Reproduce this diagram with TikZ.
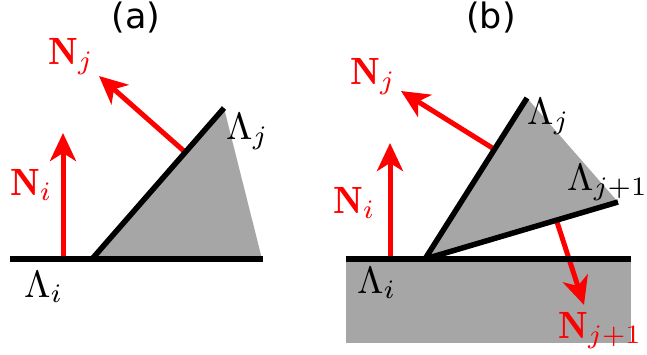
\documentclass[tikz,border=0pt]{standalone}
\usepackage{graphicx}
\usepackage{fontspec}
\newfontfamily\titlefont{DejaVu Sans}
\usetikzlibrary{arrows.meta}
\newcommand\lbltxt[1]{\scalebox{3.8}{$#1$}}
\begin{document}
\begin{tikzpicture}[x=1pt,y=-1pt,
  edge/.style={line width=5.5pt,black},
  normal/.style={line width=5pt,red,-{Stealth[length=28pt,width=26pt,inset=8pt]}},
  lbl/.style={inner sep=0pt,anchor=base west},
  nlbl/.style={lbl,text=red},
  ttl/.style={inner sep=0pt,font=\titlefont\fontsize{35}{40}\selectfont}]
\useasboundingbox (0,0) rectangle (647,354);
% ---------- panel (a)
\node[ttl] (ta) at (136,18) {(a)};
\coordinate (a0) at (10,259);
\coordinate (a1) at (92,259);
\coordinate (a2) at (224,108);
\coordinate (a3) at (263,259);
\fill[black!35] (a1) -- (a2) -- (262,259) -- cycle;
\coordinate (aNi0) at (63,259);
\coordinate (aNi1) at (63,133);
\coordinate (aNj0) at (185,152);
\coordinate (aNj1) at (99,76);
\draw[normal] (aNi0) -- (aNi1);
\draw[normal] (aNj0) -- (aNj1);
\draw[edge] (a0) -- (a3);
\draw[edge] (a1) -- (a2);
\node[nlbl] (aNj) at (48,64) {\lbltxt{\mathbf{N}_j}};
\node[nlbl] (aNi) at (10,195) {\lbltxt{\mathbf{N}_i}};
\node[lbl] (aLi) at (24,297) {\lbltxt{\Lambda_i}};
\node[lbl] (aLj) at (226,139) {\lbltxt{\Lambda_j}};
% ---------- panel (b)
\node[ttl] (tb) at (491,18) {(b)};
\coordinate (b0) at (346,259);
\coordinate (b1) at (425,259);
\coordinate (b2) at (527,98);
\coordinate (b3) at (618,202);
\coordinate (b4) at (631,259);
\fill[black!35] (346,259) rectangle (631,343);
\fill[black!35] (b1) -- (b2) -- (b3) -- cycle;
\coordinate (bNi0) at (390,259);
\coordinate (bNi1) at (390,143);
\coordinate (bNj0) at (494,149);
\coordinate (bNj1) at (401,91);
\coordinate (bNk0) at (557,222);
\coordinate (bNk1) at (584,305);
\draw[normal] (bNi0) -- (bNi1);
\draw[normal] (bNj0) -- (bNj1);
\draw[normal] (bNk0) -- (bNk1);
\draw[edge] (b0) -- (b4);
\draw[edge] (b1) -- (b2);
\draw[edge] (b1) -- (b3);
\node[nlbl] (bNj) at (350,84) {\lbltxt{\mathbf{N}_j}};
\node[nlbl] (bNi) at (333,213) {\lbltxt{\mathbf{N}_i}};
\node[nlbl] (bNk) at (558,338) {\lbltxt{\mathbf{N}_{j+1}}};
\node[lbl] (bLi) at (357,293) {\lbltxt{\Lambda_i}};
\node[lbl] (bLj) at (527,124) {\lbltxt{\Lambda_j}};
\node[lbl] (bLk) at (567,190) {\lbltxt{\Lambda_{j+1}}};
\end{tikzpicture}
\end{document}
